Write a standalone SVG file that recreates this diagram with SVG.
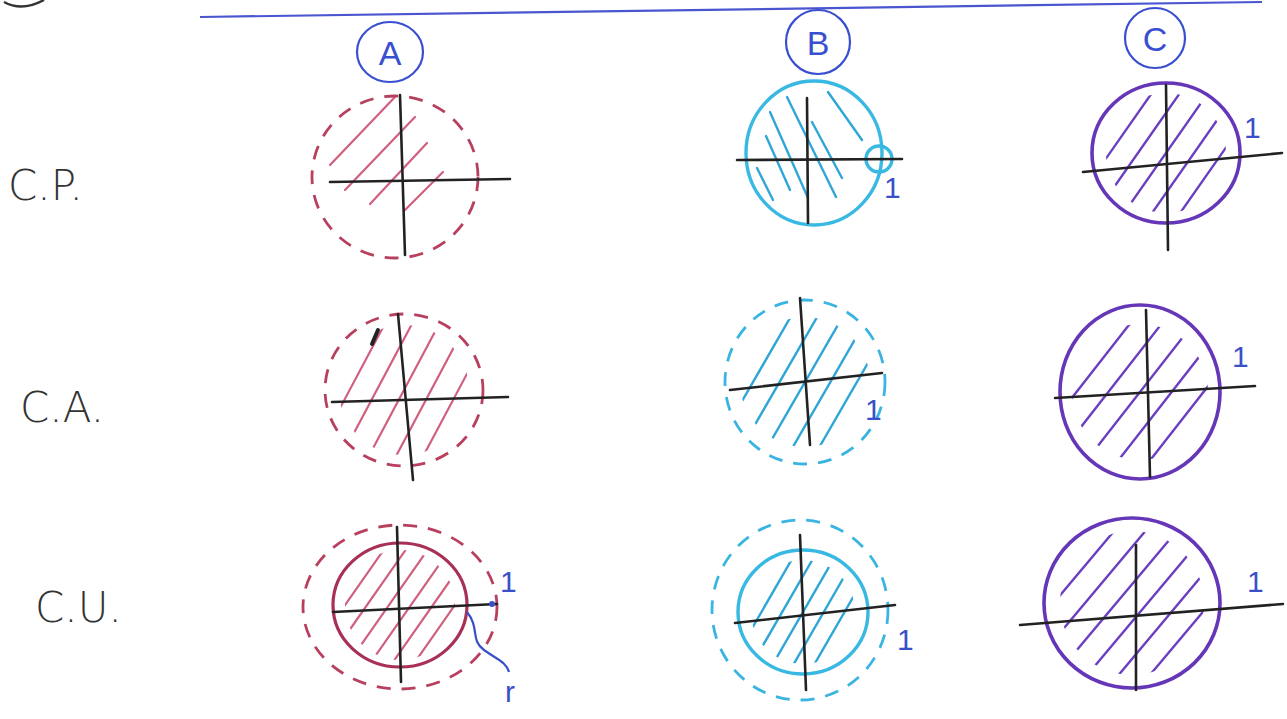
<svg xmlns="http://www.w3.org/2000/svg" width="1287" height="719" viewBox="0 0 1287 719">
<style>
.bg{fill:#ffffff}
.axis{stroke:#222;stroke-width:2.6;fill:none;stroke-linecap:round}
.dashR{stroke:#b8405e;stroke-width:2.8;fill:none;stroke-dasharray:14 11}
.solidR{stroke:#a83055;stroke-width:3.2;fill:none}
.hatchR{stroke:#d0607e;stroke-width:2.2;stroke-linecap:round}
.dashC{stroke:#3ab4e0;stroke-width:2.8;fill:none;stroke-dasharray:14 11}
.solidC{stroke:#38b8e2;stroke-width:3.4;fill:none}
.hatchC{stroke:#30a6d8;stroke-width:2.4;stroke-linecap:round}
.solidP{stroke:#6536b8;stroke-width:3.6;fill:none}
.hatchP{stroke:#6a40c0;stroke-width:2.4;stroke-linecap:round}
.head{stroke:#3a4fd0;stroke-width:2.2;fill:none}
.headT{font-family:"Liberation Sans",Arial,sans-serif;font-size:34px;fill:#3a4fd0;text-anchor:middle}
.row{font-family:"DejaVu Sans","Liberation Sans",sans-serif;font-weight:200;font-size:42px;fill:#333}
.one{font-family:"Liberation Sans",Arial,sans-serif;font-size:30px;fill:#3a50c8}
</style>
<defs>
<clipPath id="k52"><circle cx="0" cy="0" r="52"/></clipPath>
<clipPath id="k55"><circle cx="0" cy="0" r="55"/></clipPath>
<clipPath id="k60"><circle cx="0" cy="0" r="60"/></clipPath>
<clipPath id="k65"><circle cx="0" cy="0" r="65"/></clipPath>
<clipPath id="k68"><circle cx="0" cy="0" r="68"/></clipPath>
<clipPath id="k72"><circle cx="0" cy="0" r="72"/></clipPath>
</defs>
<rect class="bg" x="0" y="0" width="1287" height="719"/>

<g id="header">
<path d="M200 17 L1262 2" stroke="#4a55d0" stroke-width="2.2" fill="none"/>
<path d="M4 2 Q22 12 44 0" stroke="#333" stroke-width="2.5" fill="none"/>
</g>

<g id="head-a"><ellipse class="head" cx="390" cy="52" rx="33" ry="30"/><text class="headT" x="390" y="65">A</text></g>
<g id="head-b"><ellipse class="head" cx="818" cy="42" rx="32" ry="32"/><text class="headT" x="818" y="55">B</text></g>
<g id="head-c"><ellipse class="head" cx="1155" cy="38" rx="30" ry="30"/><text class="headT" x="1155" y="51">C</text></g>

<g id="label-cp"><text class="row" x="8" y="200">C.P.</text></g>
<g id="label-ca"><text class="row" x="20" y="422">C.A.</text></g>
<g id="label-cu"><text class="row" x="35" y="622">C.U.</text></g>

<!-- Row 1 -->
<g id="cp-a">
<line class="hatchR" x1="330" y1="165" x2="395" y2="97"/>
<line class="hatchR" x1="345" y1="190" x2="415" y2="117"/>
<line class="hatchR" x1="370" y1="204" x2="427" y2="143"/>
<line class="hatchR" x1="405" y1="210" x2="443" y2="172"/>
<ellipse class="dashR" cx="395" cy="177" rx="83" ry="81"/>
<path class="axis" d="M330 182 L510 179"/>
<path class="axis" d="M400 95 L405 255"/>
</g>

<g id="cp-b">
<line class="hatchC" x1="757" y1="168" x2="773" y2="200"/>
<line class="hatchC" x1="766" y1="136" x2="790" y2="190"/>
<line class="hatchC" x1="770" y1="112" x2="808" y2="198"/>
<line class="hatchC" x1="787" y1="97" x2="836" y2="197"/>
<line class="hatchC" x1="812" y1="122" x2="842" y2="178"/>
<line class="hatchC" x1="828" y1="92" x2="862" y2="140"/>
<ellipse class="solidC" cx="814" cy="153" rx="68" ry="72"/>
<circle class="solidC" cx="879" cy="159" r="13" stroke-width="2.6"/>
<path class="axis" d="M737 160 L902 159"/>
<path class="axis" d="M807 98 L808 223"/>
<text class="one" x="884" y="198">1</text>
</g>

<g id="cp-c">
<g transform="translate(1166,153) rotate(-55)" clip-path="url(#k60)">
<line class="hatchP" x1="-100" y1="-46" x2="100" y2="-46"/>
<line class="hatchP" x1="-100" y1="-23" x2="100" y2="-23"/>
<line class="hatchP" x1="-100" y1="0" x2="100" y2="0"/>
<line class="hatchP" x1="-100" y1="23" x2="100" y2="23"/>
<line class="hatchP" x1="-100" y1="46" x2="100" y2="46"/>
</g>
<ellipse class="solidP" cx="1166" cy="153" rx="74" ry="70"/>
<path class="axis" d="M1083 172 L1282 153"/>
<path class="axis" d="M1166 85 L1168 250"/>
<text class="one" x="1244" y="138">1</text>
</g>

<!-- Row 2 -->
<g id="ca-a">
<g transform="translate(404,390) rotate(-62)" clip-path="url(#k65)">
<line class="hatchR" x1="-100" y1="-48" x2="100" y2="-48"/>
<line class="hatchR" x1="-100" y1="-24" x2="100" y2="-24"/>
<line class="hatchR" x1="-100" y1="0" x2="100" y2="0"/>
<line class="hatchR" x1="-100" y1="24" x2="100" y2="24"/>
<line class="hatchR" x1="-100" y1="48" x2="100" y2="48"/>
</g>
<path d="M378 330 L372 344" stroke="#222" stroke-width="4" stroke-linecap="round"/>
<ellipse class="dashR" cx="404" cy="390" rx="79" ry="76"/>
<path class="axis" d="M332 402 L508 397"/>
<path class="axis" d="M398 314 L413 480"/>
</g>

<g id="ca-b">
<g transform="translate(805,382) rotate(-60)" clip-path="url(#k65)">
<line class="hatchC" x1="-100" y1="-45" x2="100" y2="-45"/>
<line class="hatchC" x1="-100" y1="-22" x2="100" y2="-22"/>
<line class="hatchC" x1="-100" y1="0" x2="100" y2="0"/>
<line class="hatchC" x1="-100" y1="22" x2="100" y2="22"/>
<line class="hatchC" x1="-100" y1="45" x2="100" y2="45"/>
</g>
<ellipse class="dashC" cx="805" cy="382" rx="80" ry="82"/>
<path class="axis" d="M730 390 L882 373"/>
<path class="axis" d="M800 298 L810 445"/>
<text class="one" x="865" y="420">1</text>
</g>

<g id="ca-c">
<g transform="translate(1140,392) rotate(-52)" clip-path="url(#k68)">
<line class="hatchP" x1="-100" y1="-50" x2="100" y2="-50"/>
<line class="hatchP" x1="-100" y1="-25" x2="100" y2="-25"/>
<line class="hatchP" x1="-100" y1="0" x2="100" y2="0"/>
<line class="hatchP" x1="-100" y1="25" x2="100" y2="25"/>
<line class="hatchP" x1="-100" y1="50" x2="100" y2="50"/>
</g>
<ellipse class="solidP" cx="1140" cy="392" rx="80" ry="87"/>
<path class="axis" d="M1055 398 L1255 386"/>
<path class="axis" d="M1146 310 L1150 477"/>
<text class="one" x="1232" y="367">1</text>
</g>

<!-- Row 3 -->
<g id="cu-a">
<g transform="translate(400,605) rotate(-55)" clip-path="url(#k55)">
<line class="hatchR" x1="-100" y1="-45" x2="100" y2="-45"/>
<line class="hatchR" x1="-100" y1="-27" x2="100" y2="-27"/>
<line class="hatchR" x1="-100" y1="-9" x2="100" y2="-9"/>
<line class="hatchR" x1="-100" y1="9" x2="100" y2="9"/>
<line class="hatchR" x1="-100" y1="27" x2="100" y2="27"/>
<line class="hatchR" x1="-100" y1="45" x2="100" y2="45"/>
</g>
<ellipse class="dashR" cx="400" cy="607" rx="97" ry="82"/>
<ellipse class="solidR" cx="400" cy="605" rx="67" ry="62"/>
<path class="axis" d="M333 612 L497 604"/>
<circle cx="492" cy="604" r="3" fill="#3a50c8"/>
<path class="axis" d="M397 527 L401 682"/>
<path d="M467 612 C480 628 470 640 484 650 S506 662 509 672" stroke="#3a50c8" stroke-width="2.2" fill="none"/>
<text class="one" x="500" y="592">1</text>
<text class="one" x="505" y="702">r</text>
</g>

<g id="cu-b">
<g transform="translate(803,612) rotate(-60)" clip-path="url(#k52)">
<line class="hatchC" x1="-100" y1="-36" x2="100" y2="-36"/>
<line class="hatchC" x1="-100" y1="-18" x2="100" y2="-18"/>
<line class="hatchC" x1="-100" y1="0" x2="100" y2="0"/>
<line class="hatchC" x1="-100" y1="18" x2="100" y2="18"/>
<line class="hatchC" x1="-100" y1="36" x2="100" y2="36"/>
</g>
<ellipse class="dashC" cx="800" cy="610" rx="88" ry="90"/>
<ellipse class="solidC" cx="803" cy="612" rx="65" ry="62"/>
<path class="axis" d="M735 623 L895 605"/>
<path class="axis" d="M800 535 L806 690"/>
<text class="one" x="897" y="650">1</text>
</g>

<g id="cu-c">
<g transform="translate(1132,603) rotate(-50)" clip-path="url(#k72)">
<line class="hatchP" x1="-100" y1="-60" x2="100" y2="-60"/>
<line class="hatchP" x1="-100" y1="-36" x2="100" y2="-36"/>
<line class="hatchP" x1="-100" y1="-12" x2="100" y2="-12"/>
<line class="hatchP" x1="-100" y1="12" x2="100" y2="12"/>
<line class="hatchP" x1="-100" y1="36" x2="100" y2="36"/>
<line class="hatchP" x1="-100" y1="60" x2="100" y2="60"/>
</g>
<ellipse class="solidP" cx="1132" cy="603" rx="88" ry="85"/>
<path class="axis" d="M1020 625 L1283 604"/>
<path class="axis" d="M1136 545 L1136 690"/>
<text class="one" x="1247" y="592">1</text>
</g>
</svg>
